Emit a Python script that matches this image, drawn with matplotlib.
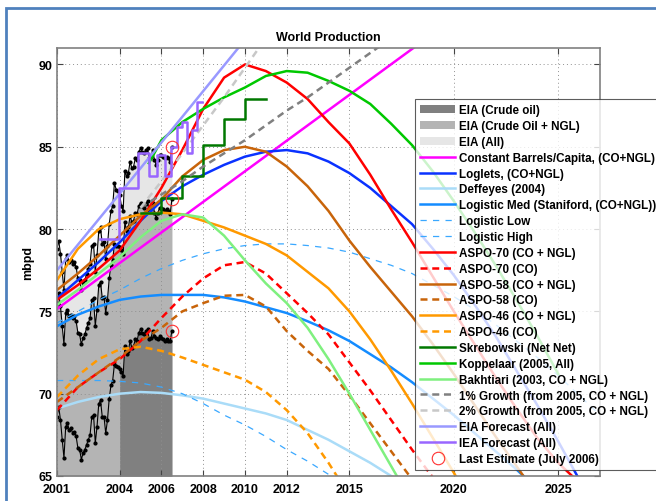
import numpy as np
import matplotlib
matplotlib.use("Agg")
import matplotlib.pyplot as plt
from matplotlib.patches import Patch, Rectangle
from matplotlib.lines import Line2D

plt.rcParams['font.family'] = ['Liberation Sans', 'DejaVu Sans']
plt.rcParams['font.weight'] = 'bold'

# EIA monthly data, Jan 2001 .. Jul 2006 (mbpd)
crude = [68.6, 69.2, 68.4, 67.2, 66.1, 68.0, 68.2, 67.8, 67.9, 67.6, 67.7, 67.4,
         66.7, 66.6, 66.0, 66.4, 66.6, 66.9, 67.2, 67.5, 68.6, 68.7, 67.0, 68.0,
         69.4, 69.6, 68.6, 68.6, 67.6, 68.4, 69.7, 70.5, 70.8, 71.8, 71.7, 71.6,
         71.5, 71.3, 71.1, 72.9, 72.4, 72.6, 73.2, 72.8, 72.9, 73.3, 73.2, 73.7,
         73.9, 73.7, 73.6, 73.8, 73.9, 73.3, 73.4, 73.8, 73.5, 73.4, 73.3, 73.5,
         73.4, 73.3, 73.2, 73.3, 73.2, 73.2, 73.8]
co_ngl = [75.5, 76.1, 75.3, 74.1, 73.0, 74.9, 75.1, 74.7, 74.8, 74.6, 74.7, 74.4,
          73.7, 73.6, 73.0, 73.4, 73.6, 74.0, 74.3, 74.6, 75.7, 75.8, 74.1, 75.1,
          76.6, 76.8, 75.8, 75.9, 74.9, 75.7, 77.0, 77.8, 78.1, 79.1, 79.0, 79.0,
          78.9, 78.7, 78.5, 80.4, 79.9, 80.1, 80.8, 80.4, 80.5, 81.0, 80.9, 81.4,
          81.6, 81.4, 81.3, 81.5, 81.7, 81.1, 81.2, 81.6, 81.0, 80.7, 81.0, 81.3,
          81.3, 81.2, 81.1, 81.2, 81.1, 80.9, 81.8]
all_liq = [78.8, 79.3, 78.5, 77.4, 76.3, 78.2, 78.4, 78.0, 78.1, 77.9, 78.0, 77.7,
           77.0, 76.9, 76.3, 76.7, 76.9, 77.3, 77.6, 77.9, 79.0, 79.1, 77.4, 78.4,
           79.9, 80.1, 79.1, 79.2, 78.2, 79.0, 80.3, 81.1, 81.4, 82.8, 82.4, 82.3,
           82.1, 81.4, 81.1, 83.5, 83.2, 83.4, 84.1, 83.7, 83.8, 84.3, 84.2, 84.7,
           84.9, 84.7, 84.6, 84.8, 84.9, 84.3, 84.4, 84.8, 84.2, 83.9, 84.2, 84.5,
           84.5, 84.4, 84.3, 84.4, 84.3, 84.1, 85.0]
months = 2001 + np.arange(len(crude)) / 12.0
crude_fill_start = 36   # dark crude area only shown from Jan 2004

years = np.arange(2001, 2028)

const_yr = [2001, 2027]
const_val = [75.15, 99.3]

loglets = [75.8, 76.9, 78.0, 79.2, 80.5, 81.7, 82.6, 83.3, 83.9, 84.4, 84.7, 84.8, 84.6, 84.1,
           83.4, 82.5, 81.4, 80.3, 78.8, 77.2, 75.4, 73.5, 71.4, 69.3, 67.1, 64.8, 62.5]
deffeyes = [69.1, 69.5, 69.8, 70.0, 70.1, 70.05, 69.9, 69.7, 69.4, 69.1, 68.8, 68.4, 67.8, 67.2,
            66.5, 65.8, 65.0, 64.2, 63.3]
log_med = [74.1, 74.8, 75.3, 75.7, 75.9, 76.0, 76.0, 76.0, 75.85, 75.6, 75.25, 74.9, 74.4, 73.85,
           73.2, 72.4, 71.6, 70.7, 69.7, 68.7, 67.6, 66.5, 65.4, 64.2, 63.0]
log_low = [70.8, 70.8, 70.8, 70.75, 70.65, 70.4, 70.0, 69.4, 68.7, 68.1, 67.4, 66.6, 65.9, 65.1, 64.3]
log_high = [74.3, 75.0, 75.7, 76.3, 77.0, 77.6, 78.1, 78.5, 78.8, 79.0, 79.1, 79.1, 79.0, 78.85,
            78.6, 78.2, 77.8, 77.3, 76.6, 75.9, 75.1, 74.2, 73.2, 72.2, 71.1, 69.9, 68.7]
aspo70 = [75.7, 76.6, 77.6, 78.7, 80.5, 82.5, 84.8, 87.3, 89.2, 90.0, 89.6, 88.9, 87.9, 86.5,
          85.2, 83.3, 81.2, 79.2, 77.1, 75.0, 73.0, 71.0, 69.1, 67.3, 65.8, 64.6, 63.5]
aspo70_co = [69.0, 70.4, 71.3, 72.1, 73.2, 74.6, 75.9, 77.0, 77.8, 78.0, 77.3, 76.1, 74.9, 73.6,
             71.9, 70.2, 68.4, 66.6, 64.9]
aspo58 = [76.3, 77.3, 78.4, 79.6, 80.8, 81.8, 83.2, 84.2, 84.8, 85.0, 84.7, 83.8, 82.6, 81.1,
          79.3, 77.7, 76.2, 74.7, 73.0, 71.2, 69.3, 67.4, 65.6, 63.8]
aspo58_co = [69.5, 70.4, 71.3, 72.2, 73.2, 74.0, 75.0, 75.5, 75.95, 76.0, 75.3, 73.8, 72.6, 71.5,
             69.9, 68.2, 66.5, 64.8]
aspo46 = [76.9, 78.8, 80.0, 80.6, 80.9, 81.0, 80.9, 80.5, 80.1, 79.6, 79.1, 78.4, 77.4, 76.4,
          75.0, 73.3, 71.4, 69.4, 67.3, 65.2, 63.0]
aspo46_co = [69.8, 71.1, 72.1, 72.7, 72.85, 72.6, 72.2, 71.75, 71.3, 70.85, 70.1, 69.0, 67.6,
             65.8, 63.8]

skreb_yr = [2005, 2006, 2007, 2008, 2009, 2010, 2011]
skreb_val = [81.0, 81.9, 83.2, 85.1, 86.7, 87.9, 87.9]

kopp_yr = [2005.4] + list(range(2006, 2026))
kopp_val = [84.0, 85.4, 86.5, 87.3, 88.0, 88.6, 89.3, 89.6, 89.5, 89.0, 88.4, 87.6, 86.4, 85.1,
            83.5, 81.7, 79.8, 77.8, 75.7, 73.5, 71.2]

bakhtiari = [75.4, 76.3, 77.3, 78.3, 79.5, 80.5, 80.9, 80.7, 79.6, 78.1, 76.7, 75.5, 74.0, 72.1,
             70.0, 67.8, 65.6, 63.4]

g1_yr = list(range(2005, 2018))
g1_val = [81.3, 82.1, 82.9, 83.8, 84.6, 85.4, 86.3, 87.2, 88.0, 88.9, 89.8, 90.7, 91.6]
g2_yr = list(range(2005, 2012))
g2_val = [81.3, 82.9, 84.6, 86.3, 88.0, 89.8, 91.6]

eia_fc_yr = [2001, 2005, 2010, 2015]
eia_fc_val = [77.5, 83.7, 91.5, 99.3]

iea_yr = [2003.07, 2003.95, 2004.9, 2005.39, 2005.79, 2006.19, 2006.47, 2006.75, 2007.0,
          2007.24, 2007.48, 2007.72, 2007.96]
iea_val = [79.4, 82.5, 84.6, 83.2, 84.5, 83.2, 85.0, 86.2, 86.5, 84.6, 86.0, 87.7, 87.7]

last_yr = [2006.5, 2006.5, 2006.5]
last_val = [73.8, 81.8, 85.0]

fig = plt.figure(figsize=(6.56, 5.02), dpi=100)
ax = fig.add_axes([57/656, 1 - 477/502, (600 - 57)/656, (477 - 49)/502])

# stacked EIA areas
ax.fill_between(months, 65, all_liq, color='#e6e6e6', lw=0)
ax.fill_between(months, 65, co_ngl, color='#b4b4b4', lw=0)
ax.fill_between(months[crude_fill_start:], 65, crude[crude_fill_start:], color='#808080', lw=0)
for s in (crude, co_ngl, all_liq):
    ax.plot(months, s, color='k', lw=0.8, marker='.', ms=4)

lw = 1.8
sdash = (2.8, 1.9)
ldash = (5, 5)
ax.plot(const_yr, const_val, color='#ff00ff', lw=lw)
ax.plot(years[:len(loglets)], loglets, color='#0a32ff', lw=lw)
ax.plot(years[:len(deffeyes)], deffeyes, color='#aadcf8', lw=lw)
ax.plot(years[:len(log_med)], log_med, color='#148cff', lw=lw)
ax.plot(years[:len(log_low)], log_low, color='#3aa8ff', lw=0.9, dashes=ldash)
ax.plot(years[:len(log_high)], log_high, color='#3aa8ff', lw=0.9, dashes=ldash)
ax.plot(years[:len(aspo70)], aspo70, color='#ff0000', lw=lw)
ax.plot(years[:len(aspo70_co)], aspo70_co, color='#ff0000', lw=lw, dashes=sdash)
ax.plot(years[:len(aspo58)], aspo58, color='#c8640a', lw=lw)
ax.plot(years[:len(aspo58_co)], aspo58_co, color='#c8640a', lw=lw, dashes=sdash)
ax.plot(years[:len(aspo46)], aspo46, color='#ff9900', lw=lw)
ax.plot(years[:len(aspo46_co)], aspo46_co, color='#ff9900', lw=lw, dashes=sdash)
ax.plot(skreb_yr, skreb_val, color='#007800', lw=lw, drawstyle='steps-post')
ax.plot(kopp_yr, kopp_val, color='#00c800', lw=lw)
ax.plot(years[:len(bakhtiari)], bakhtiari, color='#7ff07f', lw=lw)
ax.plot(g1_yr, g1_val, color='#808080', lw=lw, dashes=sdash)
ax.plot(g2_yr, g2_val, color='#c8c8c8', lw=lw, dashes=sdash)
ax.plot(eia_fc_yr, eia_fc_val, color='#9999ff', lw=lw)
ax.plot(iea_yr, iea_val, color='#9966ff', lw=lw, drawstyle='steps-post')
ax.plot(last_yr, last_val, ls='none', marker='o', ms=9, mfc='none', mec='#ff3030', mew=0.8)

ax.set_xlim(2001, 2027)
ax.set_ylim(65, 91)
ax.set_xticks([2001, 2004, 2006, 2008, 2010, 2012, 2015, 2020, 2025])
ax.set_yticks([65, 70, 75, 80, 85, 90])
ax.tick_params(direction='in', top=True, right=True, labelsize=9, length=4, color='#444444')
ax.tick_params(axis='x', pad=5)
ax.grid(True, ls=(0, (1, 3)), color='#909090', lw=0.7)
for sp in ax.spines.values():
    sp.set_color('#808080')
    sp.set_linewidth(1.2)
ax.set_ylabel('mbpd', fontsize=9, fontweight='bold', labelpad=3)
ax.set_title('World Production', fontsize=9, fontweight='bold', pad=6)

handles = [
    Patch(fc='#808080', label='EIA (Crude oil)'),
    Patch(fc='#b4b4b4', label='EIA (Crude Oil + NGL)'),
    Patch(fc='#e6e6e6', label='EIA (All)'),
    Line2D([], [], color='#ff00ff', lw=lw, label='Constant Barrels/Capita, (CO+NGL)'),
    Line2D([], [], color='#0a32ff', lw=lw, label='Loglets, (CO+NGL)'),
    Line2D([], [], color='#aadcf8', lw=lw, label='Deffeyes (2004)'),
    Line2D([], [], color='#148cff', lw=lw, label='Logistic Med (Staniford, (CO+NGL))'),
    Line2D([], [], color='#3aa8ff', lw=0.9, dashes=ldash, label='Logistic Low'),
    Line2D([], [], color='#3aa8ff', lw=0.9, dashes=ldash, label='Logistic High'),
    Line2D([], [], color='#ff0000', lw=lw, label='ASPO-70 (CO + NGL)'),
    Line2D([], [], color='#ff0000', lw=lw, dashes=sdash, label='ASPO-70 (CO)'),
    Line2D([], [], color='#c8640a', lw=lw, label='ASPO-58 (CO + NGL)'),
    Line2D([], [], color='#c8640a', lw=lw, dashes=sdash, label='ASPO-58 (CO)'),
    Line2D([], [], color='#ff9900', lw=lw, label='ASPO-46 (CO + NGL)'),
    Line2D([], [], color='#ff9900', lw=lw, dashes=sdash, label='ASPO-46 (CO)'),
    Line2D([], [], color='#007800', lw=lw, label='Skrebowski (Net Net)'),
    Line2D([], [], color='#00c800', lw=lw, label='Koppelaar (2005, All)'),
    Line2D([], [], color='#7ff07f', lw=lw, label='Bakhtiari (2003, CO + NGL)'),
    Line2D([], [], color='#808080', lw=lw, dashes=sdash, label='1% Growth (from 2005, CO + NGL)'),
    Line2D([], [], color='#c8c8c8', lw=lw, dashes=sdash, label='2% Growth (from 2005, CO + NGL)'),
    Line2D([], [], color='#9999ff', lw=lw, label='EIA Forecast (All)'),
    Line2D([], [], color='#9966ff', lw=lw, label='IEA Forecast (All)'),
    Line2D([], [], ls='none', marker='o', ms=9, mfc='none', mec='#ff3030', mew=0.8,
           label='Last Estimate (July 2006)'),
]
leg = fig.legend(handles=handles, loc='upper left', bbox_to_anchor=(415/656, 1 - 100/502),
                 fontsize=8.4, frameon=True, fancybox=False, handlelength=3.0,
                 handletextpad=0.34, labelspacing=0.33, borderpad=0.45, borderaxespad=0)
leg.get_frame().set_edgecolor('#333333')
leg.get_frame().set_linewidth(0.8)

# window border
fig.add_artist(Rectangle((6/656, -0.1), 1.0, 1 - 9/502 + 0.1, transform=fig.transFigure,
                         fill=False, ec='#4f81bd', lw=2))

fig.savefig('out.png', dpi=100)
